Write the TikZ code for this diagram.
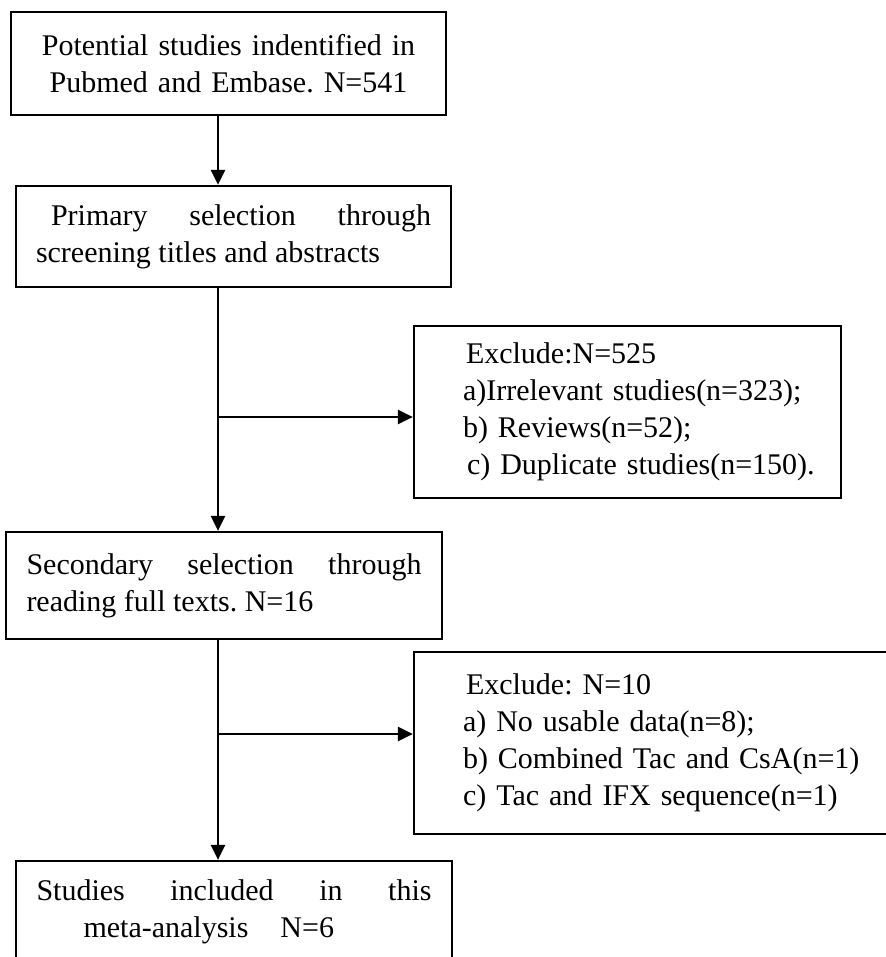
\documentclass[tikz,border=0pt]{standalone}
\usepackage{fontspec}
\setmainfont{Liberation Serif}
\usepackage{tikz}
\usetikzlibrary{arrows.meta,positioning}
\frenchspacing

\tikzset{
  box/.style={draw, line width=2.2pt, rectangle, inner xsep=20pt,
    text width=395pt, align=justify,
    font=\fontsize{30}{37}\selectfont},
  exbox/.style={draw, line width=2.2pt, rectangle, inner xsep=0pt,
    align=left, font=\fontsize{30}{37}\selectfont,
    execute at begin node={\leftskip=49pt}},
  arr/.style={line width=2.6pt, -{Triangle[length=15pt,width=14pt]}}
}

\begin{document}
\begin{tikzpicture}[x=1pt,y=-1pt]
  \useasboundingbox (0,0) rectangle (885,957);
  \node[box, align=center, minimum width=427pt, minimum height=103pt]
    (pot) at (228.5,63.5) {Potential studies indentified in\\Pubmed and Embase. N=541};
  \node[box, minimum width=435pt, minimum height=101pt]
    (prim) at (233.5,236.5) {\hspace*{15pt}Primary selection through\break
    screening titles and abstracts};
  \node[exbox, text width=427pt, minimum height=172pt]
    (exa) at (627.5,412) {\hspace*{3pt}Exclude:N=525\\a)Irrelevant studies(n=323);\\
    b) Reviews(n=52);\\\hspace*{4pt}c) Duplicate studies(n=150).};
  \node[box, minimum width=436pt, minimum height=107pt]
    (sec) at (224,585.5) {Secondary selection through\break reading full texts. N=16};
  \node[exbox, text width=480pt, minimum height=182pt]
    (exb) at (654,743) {\hspace*{3pt}Exclude: N=10\\a) No usable data(n=8);\\
    b) Combined Tac and CsA(n=1)\\c) Tac and IFX sequence(n=1)};
  \node[box, minimum width=436pt, minimum height=102pt]
    (fin) at (234,912) {Studies included in this\break
    \hspace*{47pt}meta-analysis\hspace{32pt}N=6};

  \coordinate (spine) at (218,0);
  \coordinate (ba) at (218,417);
  \coordinate (bb) at (218,734);
  \draw[arr] (spine |- pot.south) -- (spine |- prim.north);
  \draw[arr] (spine |- prim.south) -- (spine |- sec.north);
  \draw[arr] (ba) -- (ba -| exa.west);
  \draw[arr] (spine |- sec.south) -- (spine |- fin.north);
  \draw[arr] (bb) -- (bb -| exb.west);
\end{tikzpicture}
\end{document}
